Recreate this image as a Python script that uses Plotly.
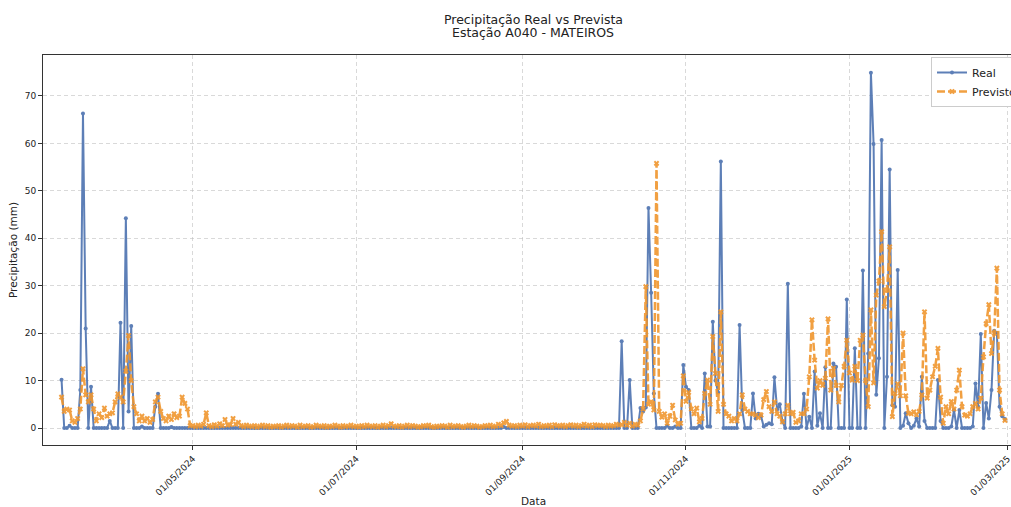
import pandas as pd
import plotly.graph_objects as go

# ---------------- data (daily, from 13/03/2024 to 28/02/2025) ----------------
start_date = "2024-03-13"

real_mar = [10.2, 0, 0, 0.5, 0, 0, 0, 8.0, 66.3, 21.0, 0, 8.7, 0, 0, 0, 0, 0, 0, 1.5]
prev_mar = [6.5, 3.5, 4.0, 3.8, 1.5, 1.2, 2.0, 4.0, 12.5, 7.0, 5.5, 7.0, 4.0, 1.5, 3.0, 2.2, 4.2, 2.5, 3.0]

real_apr = [0, 0, 0, 22.2, 0, 44.2, 3.5, 21.5, 0, 0, 0, 0.3, 0, 0, 0, 0, 4.5, 7.2, 0, 0,
            0, 0, 0.2, 0, 0, 0, 0, 0, 0, 0]
prev_apr = [3.2, 5.5, 7.2, 6.5, 5.5, 12.0, 19.5, 10.0, 4.5, 3.0, 1.5, 2.5, 1.5, 2.0, 1.2, 1.8, 5.5, 6.5, 3.5, 2.0,
            1.5, 2.5, 1.8, 3.0, 2.2, 2.5, 6.5, 5.2, 4.0, 0.5]

real_may = [0, 0, 0, 0, 0, 0, 0, 0, 0, 0, 0, 0, 0, 0, 0, 0, 0, 0, 0, 0,
            0, 0, 0, 0, 0, 0, 0, 0, 0, 0, 0]
prev_may = [0.5, 0.3, 0.6, 0.4, 0.8, 3.2, 0.5, 0.3, 0.7, 0.4, 0.9, 0.5, 1.8, 0.6, 0.7, 2.0, 0.8, 1.2, 0.5, 0.3,
            0.6, 0.4, 0.3, 0.5, 0.2, 0.4, 0.6, 0.3, 0.5, 0.2, 0.4]

real_jun = [0, 0, 0, 0, 0, 0, 0, 0, 0, 0, 0, 0, 0, 0, 0, 0, 0, 0, 0, 0,
            0, 0, 0, 0, 0, 0, 0, 0, 0, 0]
prev_jun = [0.3, 0.5, 0.2, 0.4, 0.6, 0.3, 0.5, 0.4, 0.2, 0.6, 0.3, 0.4, 0.5, 0.2, 0.3, 0.6, 0.4, 0.3, 0.5, 0.2,
            0.4, 0.3, 0.6, 0.4, 0.2, 0.5, 0.3, 0.4, 0.6, 0.3]

real_jul = [0, 0, 0, 0, 0, 0, 0, 0, 0, 0, 0, 0, 0, 0, 0, 0, 0, 0, 0, 0,
            0, 0, 0, 0, 0, 0, 0, 0, 0, 0, 0]
prev_jul = [0.4, 0.2, 0.5, 0.3, 0.6, 0.4, 0.3, 0.5, 0.2, 0.4, 0.6, 0.3, 0.5, 0.9, 0.4, 0.3, 0.5, 0.2, 0.4, 0.6,
            0.3, 0.5, 0.4, 0.2, 0.3, 0.5, 0.4, 0.6, 0.3, 0.2, 0.4]

real_aug = [0, 0, 0, 0, 0, 0, 0, 0, 0, 0, 0, 0, 0, 0, 0, 0, 0, 0, 0, 0,
            0, 0, 0, 0, 0.2, 0, 0, 0, 0, 0, 0]
prev_aug = [0.3, 0.5, 0.4, 0.2, 0.6, 0.3, 0.4, 0.5, 0.3, 0.2, 0.4, 0.6, 0.3, 0.5, 0.4, 0.2, 0.3, 0.5, 0.4, 0.6,
            0.3, 0.4, 0.8, 0.5, 1.1, 1.4, 0.6, 0.4, 0.5, 0.3, 0.6]

real_sep = [0, 0, 0, 0, 0, 0, 0, 0, 0, 0, 0, 0, 0, 0, 0, 0, 0, 0, 0, 0,
            0, 0, 0, 0, 0, 0, 0, 0, 0, 0]
prev_sep = [0.4, 0.7, 0.3, 0.5, 0.6, 0.4, 0.8, 0.3, 0.5, 0.4, 0.6, 0.3, 0.7, 0.5, 0.4, 0.6, 0.3, 0.5, 0.7, 0.4,
            0.6, 0.3, 0.5, 0.8, 0.4, 0.6, 0.3, 0.7, 0.5, 0.6]

real_oct = [0, 0, 0, 0, 0, 0, 0, 18.3, 0, 0, 10.1, 0, 0, 0, 4.2, 3.5, 4.3, 46.4, 28.5, 7.3,
            0, 0, 0, 0, 0.5, 0, 0, 0.3, 0, 0, 13.3]
prev_oct = [0.5, 0.3, 0.6, 0.4, 0.5, 0.8, 0.6, 0.7, 1.2, 0.6, 1.0, 0.4, 0.8, 0.6, 1.5, 4.0, 29.8, 5.0, 5.5, 3.8,
            55.8, 3.5, 2.3, 3.0, 1.0, 2.5, 4.8, 1.7, 0.8, 1.0, 11.0]

real_nov = [8.7, 8.0, 0, 0, 0, 0.5, 0, 11.5, 0.3, 0.3, 22.4, 10.0, 7.5, 56.2, 0, 0, 0, 0, 0, 0,
            21.7, 3.8, 0, 0, 0, 7.3, 2.0, 3.0, 2.5, 0.3]
prev_nov = [5.6, 7.5, 4.0, 3.0, 4.2, 1.3, 2.0, 7.3, 10.1, 5.0, 19.3, 11.5, 3.5, 24.5, 5.0, 3.0, 2.5, 1.5, 2.0, 1.5,
            3.0, 7.0, 4.0, 3.5, 3.0, 3.0, 2.7, 2.2, 2.7, 6.0]

real_dec = [0.7, 1.0, 0.8, 10.7, 3.9, 5.0, 1.4, 0, 30.4, 0, 0, 0, 0, 0.3, 7.2, 0, 2.4, 0, 11.9, 0.5,
            3.1, 0, 12.8, 0, 0, 13.6, 12.9, 0, 0, 0, 27.1]
prev_dec = [7.7, 4.5, 3.5, 5.5, 3.0, 2.5, 1.3, 3.0, 4.8, 3.0, 3.3, 1.2, 1.5, 3.0, 3.0, 4.0, 10.8, 22.8, 14.3, 8.4,
            10.0, 9.0, 10.5, 23.0, 8.0, 12.6, 9.0, 5.5, 9.0, 13.0, 18.5]

real_jan = [0, 0, 16.8, 0, 0, 33.2, 0, 15.7, 74.9, 59.9, 7.0, 14.7, 60.7, 0, 10.8, 54.5, 4.8, 4.5, 33.3, 0,
            0.5, 3.1, 1.0, 0, 0.5, 2.0, 0.3, 10.8, 1.5, 0, 0]
prev_jan = [11.6, 10.1, 13.0, 10.0, 18.5, 19.6, 10.0, 4.5, 24.9, 9.5, 28.0, 31.0, 41.4, 25.6, 29.1, 38.2, 2.4, 7.3, 9.3, 6.8,
            20.0, 6.8, 3.1, 3.0, 3.4, 2.8, 3.5, 7.0, 24.5, 6.3, 8.0]

real_feb = [0, 0, 10.1, 1.5, 0, 0, 0, 0.3, 3.8, 0, 3.8, 0, 0, 0, 0, 0.3, 9.4, 4.5, 19.8, 0,
            5.3, 2.0, 8.0, 20.5, 20.1, 4.5, 2.5, 1.9]
prev_feb = [10.8, 13.0, 16.8, 6.5, 1.0, 4.5, 3.0, 5.6, 4.0, 8.0, 12.2, 4.5, 2.7, 2.5, 3.0, 4.5, 5.2, 4.0, 6.3, 15.0,
            22.0, 26.0, 15.7, 20.0, 33.7, 8.0, 3.0, 1.6]

tick_dates = ["2024-05-01", "2024-07-01", "2024-09-01", "2024-11-01", "2025-01-01", "2025-03-01"]
tick_labels = ["01/05/2024", "01/07/2024", "01/09/2024", "01/11/2024", "01/01/2025", "01/03/2025"]
y_ticks = [0, 10, 20, 30, 40, 50, 60, 70]

real = (real_mar + real_apr + real_may + real_jun + real_jul + real_aug + real_sep
        + real_oct + real_nov + real_dec + real_jan + real_feb)
prev = (prev_mar + prev_apr + prev_may + prev_jun + prev_jul + prev_aug + prev_sep
        + prev_oct + prev_nov + prev_dec + prev_jan + prev_feb)
dates = pd.date_range(start_date, periods=len(real), freq="D")

# ---------------- figure ----------------
FONT = "DejaVu Sans, Liberation Sans, sans-serif"
BLUE = "#4C72B0"
ORANGE = "#F0962E"
FIG_W, FIG_H = 1060, 507
L, R, T, B = 43, 38, 55, 62          # plot area spans x 43..1022, y 55..445
PW, PH = FIG_W - L - R, FIG_H - T - B

fig = go.Figure()
fig.add_trace(go.Scatter(
    x=dates, y=real, name="Real", mode="lines+markers",
    line=dict(color=BLUE, width=2),
    marker=dict(symbol="circle", size=4, color=BLUE),
    opacity=0.9,
))
fig.add_trace(go.Scatter(
    x=dates, y=prev, name="Previsto", mode="lines+markers",
    line=dict(color=ORANGE, width=2.5, dash="8px,3px"),
    marker=dict(symbol="x", size=5, color=ORANGE),
    opacity=0.9,
))

grid = "rgba(185,185,185,0.55)"
fig.update_layout(
    width=FIG_W, height=FIG_H,
    margin=dict(l=L, r=R, t=T, b=B),
    paper_bgcolor="white", plot_bgcolor="white",
    font=dict(family=FONT, size=10, color="#222"),
    showlegend=True,
    legend=dict(
        x=(931 - L) / PW, y=(T + PH - 57) / PH, xanchor="left", yanchor="top",
        bgcolor="white", bordercolor="#cccccc", borderwidth=1,
        font=dict(family=FONT, size=11, color="#222"),
        tracegroupgap=0, itemwidth=30,
    ),
    xaxis=dict(
        type="date",
        range=["2024-03-06 02:00", "2025-03-06 09:00"],
        tickmode="array", tickvals=tick_dates, ticktext=tick_labels,
        tickangle=-45, tickfont=dict(size=9, color="#222"),
        ticks="outside", ticklen=4, tickcolor="#333",
        showgrid=True, gridcolor=grid, griddash="4px,3px", gridwidth=1,
        showline=True, linecolor="#333", linewidth=1, mirror=True,
        zeroline=False, automargin=False,
    ),
    yaxis=dict(
        range=[-3.58, 78.64],
        tickmode="array", tickvals=y_ticks,
        tickfont=dict(size=9, color="#222"),
        ticks="outside", ticklen=4, tickcolor="#333",
        showgrid=True, gridcolor=grid, griddash="4px,3px", gridwidth=1,
        showline=True, linecolor="#333", linewidth=1, mirror=True,
        zeroline=False, automargin=False,
        title=dict(text="Precipitação (mm)", font=dict(family=FONT, size=10.5, color="#222"), standoff=5),
    ),
)

# title (two lines) centred over the axes
title_lines = ["Precipitação Real vs Prevista", "Estação A040 - MATEIROS"]
for line_text, y_px in zip(title_lines, [19, 33]):
    fig.add_annotation(
        text=line_text, xref="paper", yref="paper",
        x=(533 - L) / PW, y=(T + PH - y_px) / PH,
        xanchor="center", yanchor="middle", showarrow=False,
        font=dict(family=FONT, size=12.5, color="#222"),
    )

fig.add_annotation(
    text="Data", xref="paper", yref="paper",
    x=(533 - L) / PW, y=(T + PH - 501) / PH,
    xanchor="center", yanchor="middle", showarrow=False,
    font=dict(family=FONT, size=10.5, color="#222"),
)

fig.write_html(
    "out.html",
    config={"displayModeBar": False},
    post_script=(
        "document.body.style.margin='0px';"
        "document.documentElement.style.overflow='hidden';"
        "document.body.style.overflow='hidden';"
    ),
)
